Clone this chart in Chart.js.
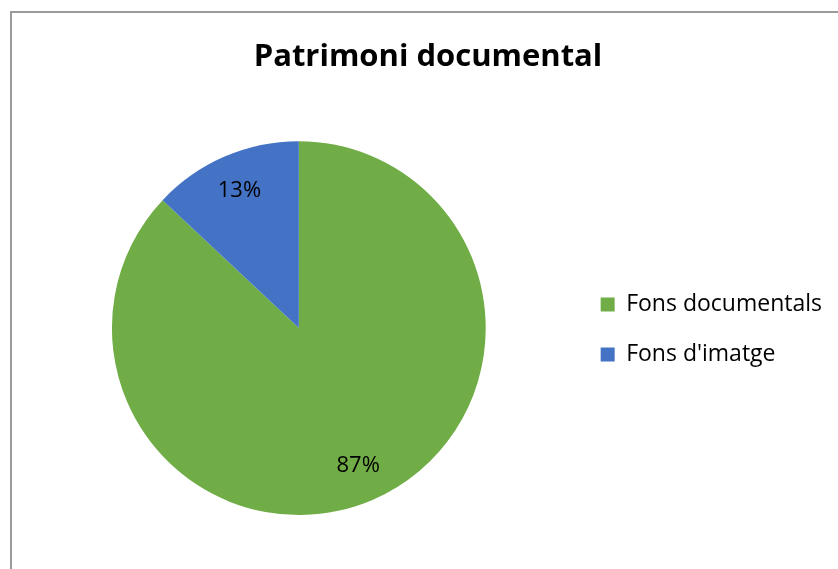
<!DOCTYPE html>
<html>
<head>
<meta charset="utf-8">
<script src="https://cdn.jsdelivr.net/npm/chart.js@4/dist/chart.umd.min.js"></script>
<style>
    html, body { margin: 0; padding: 0; background: #fff; overflow: hidden; }
    #frame {
        position: absolute; left: 10px; top: 11px; width: 900px; height: 700px;
        border-top: 2px solid #9a9a9a; border-left: 2px solid #9a9a9a;
    }
    #wrap { position: absolute; left: 0; top: 0; width: 838px; height: 569px; }
</style>
</head>
<body>
<div id="frame"></div>
<div id="wrap"><canvas id="pieChart"></canvas></div>
<script>
// Chart data
const chartTitle = 'Patrimoni documental';
const categories = ['Fons documentals', "Fons d'imatge"];
const shares = [87, 13];
const sliceColors = ['#70AD47', '#4472C4'];

const fontFamily = "'Open Sans', 'Noto Sans', sans-serif";

// Percent labels inside the slices
const sliceLabels = {
    id: 'sliceLabels',
    afterDatasetsDraw(chart) {
        const ctx = chart.ctx;
        const meta = chart.getDatasetMeta(0);
        const total = shares.reduce((a, b) => a + b, 0);
        ctx.save();
        ctx.font = '22px ' + fontFamily;
        ctx.fillStyle = '#000';
        ctx.textAlign = 'center';
        ctx.textBaseline = 'middle';
        meta.data.forEach((arc, i) => {
            const mid = (arc.startAngle + arc.endAngle) / 2;
            const r = arc.outerRadius * 0.8;
            const x = arc.x + Math.cos(mid) * r;
            const y = arc.y + Math.sin(mid) * r;
            ctx.fillText(Math.round(shares[i] / total * 100) + '%', x, y);
        });
        ctx.restore();
    }
};

const ctx = document.getElementById('pieChart').getContext('2d');
const pieChart = new Chart(ctx, {
    type: 'pie',
    data: {
        labels: categories,
        datasets: [{
            data: shares,
            backgroundColor: sliceColors,
            borderWidth: 0
        }]
    },
    options: {
        responsive: true,
        maintainAspectRatio: false,
        animation: false,
        layout: {
            padding: { left: 24, right: 6, top: 0, bottom: 54 }
        },
        plugins: {
            title: {
                display: true,
                text: chartTitle,
                color: '#000',
                font: { family: fontFamily, size: 31, weight: 'bold' },
                padding: { top: 39, bottom: 65 }
            },
            legend: {
                position: 'right',
                title: {
                    display: true,
                    text: '',
                    font: { size: 1 },
                    padding: { top: 0, bottom: 143 }
                },
                labels: {
                    color: '#000',
                    font: { family: fontFamily, size: 23 },
                    boxWidth: 14,
                    boxHeight: 14,
                    padding: 27
                }
            },
            tooltip: { enabled: false }
        }
    },
    plugins: [sliceLabels]
});
</script>
</body>
</html>
